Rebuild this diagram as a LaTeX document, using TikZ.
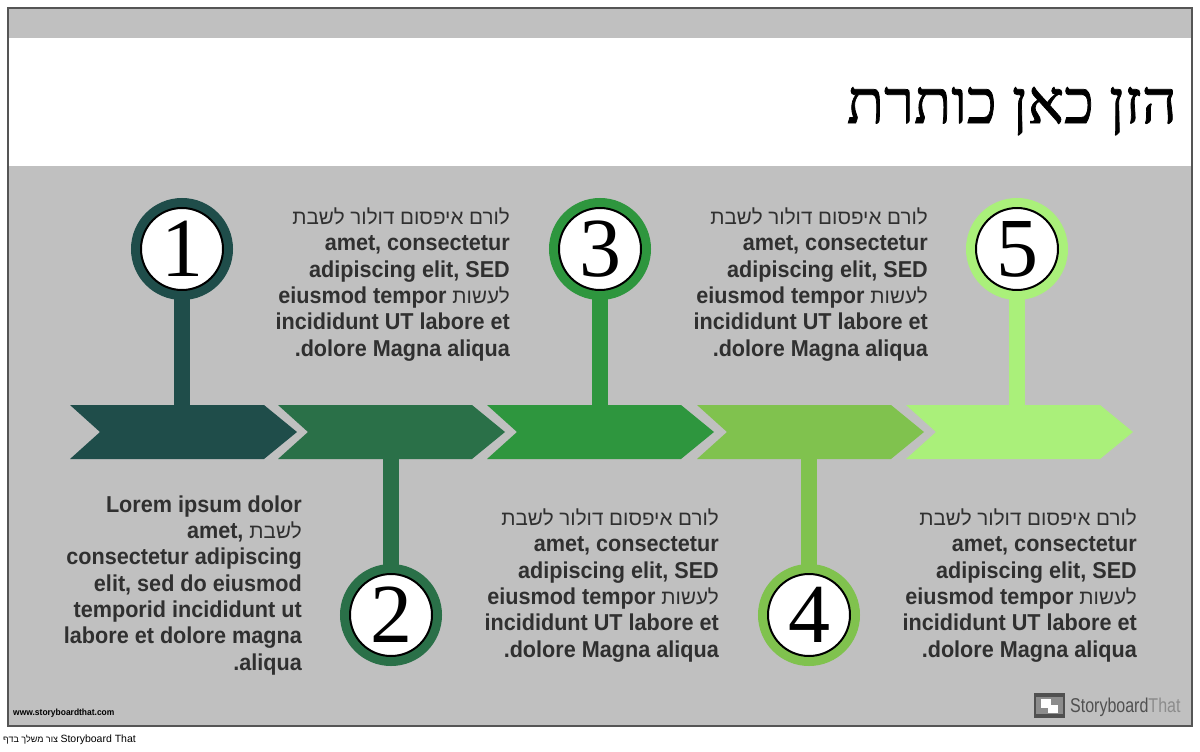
\documentclass[tikz,border=0pt]{standalone}
\usepackage{fontspec}
\setmainfont{Liberation Serif}
\newfontfamily\titlefont[Script=Hebrew, FakeBold=1.2]{Liberation Serif}
\newfontfamily\hebfont[Script=Hebrew]{Liberation Sans}
\newfontfamily\blockfont[FakeStretch=0.94]{Liberation Sans}
\newfontfamily\logofont[FakeStretch=0.8]{Liberation Sans}
\TeXXeTstate=1
\usetikzlibrary{positioning}

\definecolor{panelgray}{RGB}{192,192,192}
\definecolor{framegray}{RGB}{85,85,85}
\definecolor{textgray}{RGB}{48,48,48}
\definecolor{stepA}{RGB}{31,77,74}
\definecolor{stepB}{RGB}{42,112,72}
\definecolor{stepC}{RGB}{46,150,62}
\definecolor{stepD}{RGB}{128,194,78}
\definecolor{stepE}{RGB}{170,240,122}
\definecolor{logodark}{RGB}{80,80,80}
\definecolor{logolight}{RGB}{140,140,140}

\newcommand{\heb}[1]{{\hebfont\mdseries\fontsize{20.6}{26.3}\selectfont\beginR #1\endR}}

\begin{document}
\begin{tikzpicture}[x=1pt, y=-1pt,
  frame/.style={fill=panelgray, draw=framegray, line width=1.5pt},
  stem/.style={line width=16pt},
  num/.style={circle, fill=white, draw=black, line width=2pt, minimum size=82pt,
    inner sep=0pt, preaction={draw=#1, line width=20pt},
    font=\fontsize{84}{84}\selectfont},
  block/.style={anchor=base east, align=right, inner sep=0pt, text=textgray,
    font=\blockfont\bfseries\fontsize{23}{26.3}\selectfont}]
  \useasboundingbox (0,0) rectangle (1200,752);
  \fill[white] (0,0) rectangle (1200,752);

  % panel and title band
  \draw[frame] (8,8) rectangle (1192,726);
  \fill[white] (9,38) rectangle (1191,166);
  \node[anchor=base east, inner sep=0pt] (title) at (1177,123)
    {\titlefont\fontsize{61}{61}\selectfont\beginR הזן כאן כותרת\endR};

  % chevrons
  \fill[stepA] (70,405) -- (264,405) -- (297,432) -- (264,459) -- (70,459) -- (100,432) -- cycle;
  \fill[stepB] (278,405) -- (472,405) -- (505,432) -- (472,459) -- (278,459) -- (308,432) -- cycle;
  \fill[stepC] (487,405) -- (681,405) -- (714,432) -- (681,459) -- (487,459) -- (517,432) -- cycle;
  \fill[stepD] (697,405) -- (891,405) -- (924,432) -- (891,459) -- (697,459) -- (727,432) -- cycle;
  \fill[stepE] (906,405) -- (1100,405) -- (1133,432) -- (1100,459) -- (906,459) -- (936,432) -- cycle;

  \coordinate (a1) at (182,405);
  \coordinate (a2) at (391,459);
  \coordinate (a3) at (600,405);
  \coordinate (a4) at (809,459);
  \coordinate (a5) at (1017,405);

  % number circles
  \node[num=stepA] (n1) at (182,249) {1};
  \node[num=stepB] (n2) at (391,615) {2};
  \node[num=stepC] (n3) at (600,249) {3};
  \node[num=stepD] (n4) at (809,615) {4};
  \node[num=stepE] (n5) at (1017,249) {5};

  \draw[stem, stepA] (n1.south) -- (a1);
  \draw[stem, stepB] (n2.north) -- (a2);
  \draw[stem, stepC] (n3.south) -- (a3);
  \draw[stem, stepD] (n4.north) -- (a4);
  \draw[stem, stepE] (n5.south) -- (a5);

  % text blocks (anchored at the last line)
  \node[block] (t1) at (302,670) {Lorem ipsum dolor\\
    amet, \heb{לשבת}\\
    consectetur adipiscing\\
    elit, sed do eiusmod\\
    temporid incididunt ut\\
    labore et dolore magna\\
    .aliqua};
  \node[block] (t2) at (510,356) {\heb{לורם איפסום דולור לשבת}\\
    amet, consectetur\\
    adipiscing elit, SED\\
    eiusmod tempor \heb{לעשות}\\
    incididunt UT labore et\\
    .dolore Magna aliqua};
  \node[block] (t3) at (719,657) {\heb{לורם איפסום דולור לשבת}\\
    amet, consectetur\\
    adipiscing elit, SED\\
    eiusmod tempor \heb{לעשות}\\
    incididunt UT labore et\\
    .dolore Magna aliqua};
  \node[block] (t4) at (928,356) {\heb{לורם איפסום דולור לשבת}\\
    amet, consectetur\\
    adipiscing elit, SED\\
    eiusmod tempor \heb{לעשות}\\
    incididunt UT labore et\\
    .dolore Magna aliqua};
  \node[block] (t5) at (1137,657) {\heb{לורם איפסום דולור לשבת}\\
    amet, consectetur\\
    adipiscing elit, SED\\
    eiusmod tempor \heb{לעשות}\\
    incididunt UT labore et\\
    .dolore Magna aliqua};

  % footer
  \node[anchor=base west, inner sep=0pt, text=black] (url) at (13,715)
    {\blockfont\bfseries\fontsize{9}{9}\selectfont www.storyboardthat.com};
  \fill[logodark] (1034,693) rectangle (1065,718);
  \fill[logolight] (1036,697) rectangle (1063,714);
  \fill[white] (1041,699) rectangle (1051,708);
  \fill[white] (1048,705) rectangle (1058,713);
  \node[anchor=base west, inner sep=0pt] (logo) at (1070,712)
    {\logofont\fontsize{20}{20}\selectfont\textcolor{logodark}{Storyboard}\textcolor{logolight}{That}};
  \node[anchor=base west, inner sep=0pt] (credit) at (3,742)
    {\hebfont\fontsize{9}{9}\selectfont\beginR צור משלך בדף\endR\ \fontsize{10.5}{10.5}\selectfont Storyboard That};
\end{tikzpicture}
\end{document}
